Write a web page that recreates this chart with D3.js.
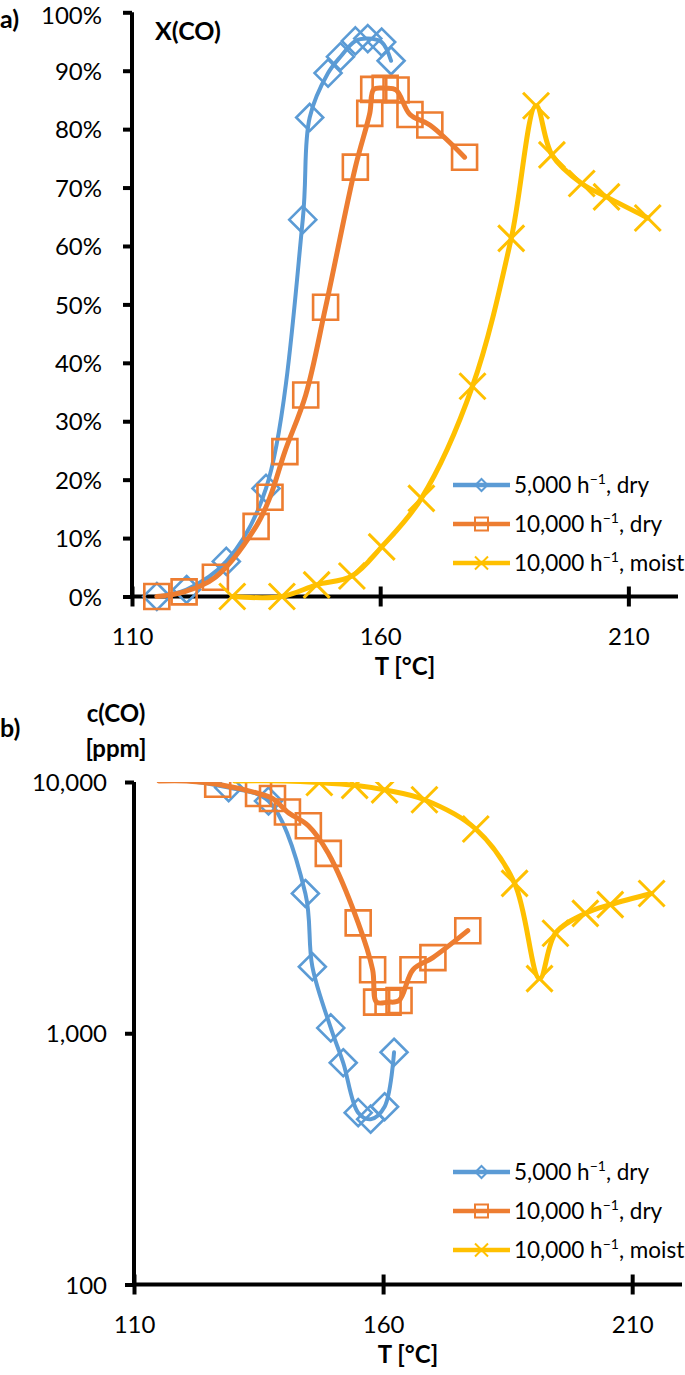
<!DOCTYPE html>
<html lang="en">
<head>
<meta charset="utf-8">
<title>X(CO) and c(CO) vs T</title>
<script src="https://d3js.org/d3.v7.min.js"></script>
<style>
  body { margin: 0; background: #fff; }
  text { font-family: Lato, "Open Sans", sans-serif; fill: #000; }
</style>
</head>
<body>
<script>
// ---- data ----
var seriesNames = ["5,000", "10,000", "10,000"];
var seriesTags = [", dry", ", dry", ", moist"];

// temperatures [°C]
var tBlue   = [115, 121, 129, 137, 144.4, 145.8, 149.5, 152, 155, 157.5, 160.3, 162.2];
var tOrange = [115, 120.5, 126.8, 135, 137.8, 140.8, 145, 149, 155, 157.9, 158.7, 161, 163.2, 166, 170, 177];
var tYellow = [130.2, 140.2, 147.2, 154.3, 160.3, 168.3, 178.6, 186.4, 191.4, 194.6, 200.6, 205.6, 213.9];

// a) conversion X(CO) [%]
var xBlue   = [0, 1.2, 6, 18.5, 64.5, 82, 89.6, 92.4, 95.1, 95.5, 94.9, 91.7];
var xOrange = [0, 0.8, 3.3, 12, 17, 24.8, 34.5, 49.5, 73.5, 82.7, 86.8, 87, 86.7, 82.5, 80.7, 75.2];
var xYellow = [0, 0, 2, 3.5, 8.5, 16.8, 36, 61.3, 84, 75.6, 70.7, 68.4, 64.8];

// b) outlet concentration c(CO) [ppm]
var cBlue   = [10100, 10100, 9500, 8400, 3600, 1840, 1050, 763, 483, 455, 510, 840];
var cOrange = [10100, 10100, 9800, 9000, 8600, 7600, 6700, 5200, 2750, 1790, 1330, 1330, 1350, 1790, 2000, 2560];
var cYellow = [10100, 10100, 9950, 9700, 9300, 8500, 6500, 3950, 1650, 2500, 3000, 3250, 3600];

var xTicks = [110, 160, 210];
var xMinor = [120, 130, 140, 150, 170, 180, 190, 200, 220];
var pctTicks = [0, 10, 20, 30, 40, 50, 60, 70, 80, 90, 100];
var ppmTicks = [100, 1000, 10000];

var colors = ["#5B9BD5", "#ED7D31", "#FFC000"];
var markers = ["diamond", "square", "cross"];

var width = 685, height = 1375;
var svg = d3.select("body").append("svg")
    .attr("width", width)
    .attr("height", height);

function markerPath(type, r) {
  if (type == "diamond") return "M0," + (-r) + "L" + r + ",0L0," + r + "L" + (-r) + ",0Z";
  if (type == "square") return "M" + (-r) + "," + (-r) + "H" + r + "V" + r + "H" + (-r) + "Z";
  return "M" + (-r) + "," + (-r) + "L" + r + "," + r + "M" + (-r) + "," + r + "L" + r + "," + (-r);
}
var markerR = [13.5, 12.5, 13];
var lineW = [4, 5, 5];

function xAxis(g, x, y0) {
  var ax = g.append("g").attr("transform", "translate(0," + y0 + ")");
  ax.call(d3.axisBottom(x).tickValues(xMinor).tickSize(6).tickFormat(""));
  ax.call(d3.axisBottom(x).tickValues(xTicks).tickSize(10).tickFormat(d3.format("d")));
  ax.selectAll(".tick line").attr("stroke", "#000").attr("stroke-width", 4);
  ax.selectAll(".tick").filter(function(d) { return xTicks.indexOf(d) >= 0; })
      .select("line").attr("y1", -10).attr("y2", 10);
  ax.select(".domain").attr("stroke", "#000").attr("stroke-width", 4).attr("d", "M" + x.range()[0] + ",0H" + x.range()[1]);
  ax.selectAll("text").attr("y", 48).attr("dy", 0).style("font-size", "24px").style("font-family", "Lato, sans-serif");
  ax.append("text").attr("x", (x.range()[0] + x.range()[1]) / 2).attr("y", 78)
      .attr("text-anchor", "middle").style("font-size", "24px").style("font-weight", "bold")
      .style("font-family", "Lato, sans-serif").text("T [°C]");
}

function yAxis(g, y, x0, ticks, fmt, pad) {
  var ax = g.append("g").attr("transform", "translate(" + x0 + ",0)");
  ax.call(d3.axisLeft(y).tickValues(ticks).tickSize(9).tickPadding(pad).tickFormat(fmt));
  ax.selectAll(".tick line").attr("stroke", "#000").attr("stroke-width", 4);
  ax.select(".domain").attr("stroke", "#000").attr("stroke-width", 4).attr("d", "M0," + y.range()[1] + "V" + (y.range()[0] + 2));
  ax.selectAll("text").attr("dy", "0.36em").style("font-size", "24px").style("font-family", "Lato, sans-serif");
  // keep the top label inside the page
  ax.selectAll(".tick").filter(function(d) { return y(d) < 20; }).select("text").attr("y", 3);
}

function drawSeries(g, x, y, ts, vs, i, keep) {
  var pts = ts.map(function(t, k) { return [t, vs[k]]; });
  var line = d3.line().x(function(d) { return x(d[0]); }).y(function(d) { return y(d[1]); })
      .curve(d3.curveCatmullRom.alpha(0.5));
  g.append("path").datum(pts).attr("d", line)
      .attr("fill", "none").attr("stroke", colors[i]).attr("stroke-width", lineW[i])
      .attr("stroke-linejoin", "round").attr("stroke-linecap", "round");
  g.selectAll(".m" + i).data(pts.filter(keep)).enter().append("path")
      .attr("class", "m" + i)
      .attr("transform", function(d) { return "translate(" + x(d[0]) + "," + y(d[1]) + ")"; })
      .attr("d", markerPath(markers[i], markerR[i]))
      .attr("fill", "none").attr("stroke", colors[i]).attr("stroke-width", i == 2 ? 3 : 2.6);
}

function legend(g, y0) {
  [0, 1, 2].forEach(function(i) {
    var yy = y0 + i * 39;
    g.append("line").attr("x1", 453).attr("x2", 510).attr("y1", yy).attr("y2", yy)
        .attr("stroke", colors[i]).attr("stroke-width", 4.5);
    g.append("path").attr("transform", "translate(481.5," + yy + ")")
        .attr("d", markerPath(markers[i], i == 0 ? 6 : 6.5))
        .attr("fill", "none").attr("stroke", colors[i]).attr("stroke-width", 2);
    var t = g.append("text").attr("x", 514).attr("y", yy + 8).style("font-size", "22.5px");
    t.append("tspan").text(seriesNames[i] + " h");
    t.append("tspan").attr("dy", -9).style("font-size", "14px").text("\u22121");
    t.append("tspan").attr("dy", 9).text(seriesTags[i]);
  });
}

// ---- a) X(CO) ----
var xa = d3.scaleLinear().domain([110, 220]).range([132, 678]);
var ya = d3.scaleLinear().domain([0, 100]).range([596.5, 12.3]);
var ga = svg.append("g");
yAxis(ga, ya, 132, pctTicks, function(d) { return d + "%"; }, 21);
xAxis(ga, xa, 596.5);
ga.append("text").attr("x", 0).attr("y", 28).style("font-size", "25px").style("font-weight", "bold").text("a)");
ga.append("text").attr("x", 155).attr("y", 40).style("font-size", "25px").style("font-weight", "bold").text("X(CO)");
drawSeries(ga, xa, ya, tBlue, xBlue, 0, function() { return true; });
drawSeries(ga, xa, ya, tOrange, xOrange, 1, function() { return true; });
drawSeries(ga, xa, ya, tYellow, xYellow, 2, function() { return true; });
legend(ga, 485);

// ---- b) c(CO) ----
var xb = d3.scaleLinear().domain([110, 220]).range([134, 682]);
var yb = d3.scaleLog().domain([100, 10000]).range([1284.5, 782]);
var gb = svg.append("g");
yAxis(gb, yb, 134, ppmTicks, d3.format(","), 18);
xAxis(gb, xb, 1284.5);
gb.append("text").attr("x", 0).attr("y", 737).style("font-size", "25px").style("font-weight", "bold").text("b)");
gb.append("text").attr("x", 116).attr("y", 722).attr("text-anchor", "middle").style("font-size", "24px").style("font-weight", "bold").text("c(CO)");
gb.append("text").attr("x", 116).attr("y", 757).attr("text-anchor", "middle").style("font-size", "24px").style("font-weight", "bold").text("[ppm]");
svg.append("clipPath").attr("id", "clipb").append("rect")
    .attr("x", 100).attr("y", 782).attr("width", 585).attr("height", 510);
var gbs = gb.append("g").attr("clip-path", "url(#clipb)");
var inRange = function(d) { return d[1] <= 10000; };
drawSeries(gbs, xb, yb, tBlue, cBlue, 0, inRange);
drawSeries(gbs, xb, yb, tOrange, cOrange, 1, inRange);
drawSeries(gbs, xb, yb, tYellow, cYellow, 2, inRange);
legend(gb, 1172);
</script>
</body>
</html>
